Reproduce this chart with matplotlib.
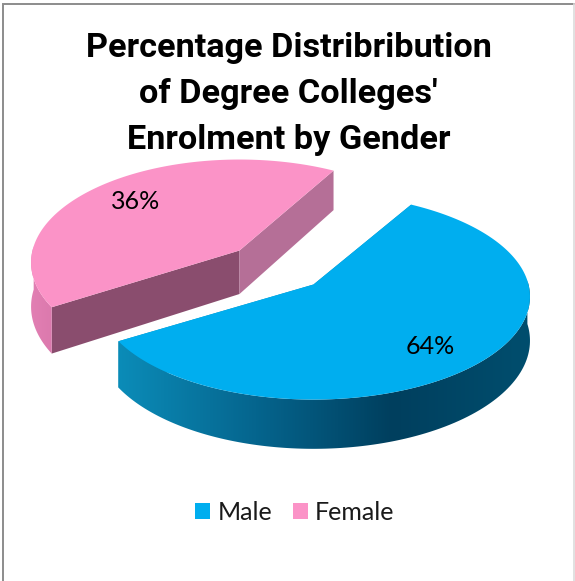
import numpy as np
import matplotlib
matplotlib.use("Agg")
import matplotlib.pyplot as plt
from matplotlib.colors import LinearSegmentedColormap
from matplotlib.patches import Patch, Polygon

title = "Percentage Distribribution\nof Degree Colleges'\nEnrolment by Gender"
labels = ["Male", "Female"]
shares = [64, 36]

top_colors = ["#00aeef", "#fb93c7"]
arc_ramps = [["#0b8cb8", "#05658e", "#003f5e", "#004e6e"], ["#e27fb3", "#cf6fa2"]]
# wall at the start and at the end of each slice
side_colors = [("#0b8cb8", "#0b8cb8"), ("#8a4d6e", "#b56f97")]
widths = [215.0, 207.0]
ramp_spans = [None, 60]
label_turn = [4, 0]
label_radius = [0.76, 0.74]

# pie layout in pixels, y pointing down
cx, cy = 276.5, 267.5
ry = 101.6
persp = 0.117
thick = 43.5
explode = 0.24
first_angle = 19.0
# the original drawing is not to scale, its slices look like 58/42
skew_amp, skew_at = 14.3, 134.2


def skew(a):
    return a + skew_amp * np.sin(np.radians(2 * (a - skew_at)))


def project(a, r, ox, oy, rx, drop=0.0):
    # a in degrees clockwise from the back of the pie
    t = np.radians(a)
    u, v = r * np.sin(t), -r * np.cos(t)
    s = 1 / (1 - persp * v)
    return ox + rx * u * s, oy + ry * v * s + drop * s


fig = plt.figure(figsize=(5.75, 5.81), dpi=100, facecolor="white")
ax = fig.add_axes([0, 0, 1, 1])
ax.axis("off")

# frame, the right side is much fainter
ax.plot([2.5, 2.5, 573.5], [581, 3.5, 3.5], color="#8c8c8c", lw=1.4, solid_joinstyle="miter")
ax.plot([573.5, 573.5], [3.5, 581], color="#dcdcdc", lw=1.2)

edges = first_angle + np.cumsum([0] + shares) * 3.6
for i, share in enumerate(shares):
    a0, a1 = edges[i], edges[i + 1]
    mid = (a0 + a1) / 2
    rx = widths[i]
    ox = cx + explode * 215.0 * np.sin(np.radians(mid))
    oy = cy - explode * ry * np.cos(np.radians(mid))
    angs = skew(np.linspace(a0, a1, 240))

    # radial walls
    ax0, ay0 = project(angs[0], 1, ox, oy, rx)
    ax1, ay1 = project(angs[-1], 1, ox, oy, rx)
    bx0, by0 = project(angs[0], 1, ox, oy, rx, thick)
    bx1, by1 = project(angs[-1], 1, ox, oy, rx, thick)
    low = oy + thick
    ax.add_patch(Polygon([(ox, oy), (ax0, ay0), (bx0, by0), (ox, low)], fc=side_colors[i][0], ec="none"))
    ax.add_patch(Polygon([(ox, oy), (ax1, ay1), (bx1, by1), (ox, low)], fc=side_colors[i][1], ec="none"))

    # outer wall, shaded from left to right
    xt, yt = project(angs, 1, ox, oy, rx)
    xb, yb = project(angs, 1, ox, oy, rx, thick)
    near = np.cos(np.radians(angs)) < 0.05
    outline = list(zip(xt[near], yt[near])) + list(zip(xb[near][::-1], yb[near][::-1]))
    clip = Polygon(outline, fc="none", ec="none")
    ax.add_patch(clip)
    ramp = LinearSegmentedColormap.from_list("wall", arc_ramps[i])
    span = ramp_spans[i] or xt.max() - xt.min()
    grad = np.linspace(0, 1, 256).reshape(1, -1)
    im = ax.imshow(grad, cmap=ramp, extent=(xt.min(), xt.min() + span, 500, 100), aspect="auto", zorder=1.5)
    im.set_clip_path(clip)

    # top face
    ax.add_patch(Polygon([(ox, oy)] + list(zip(xt, yt)), fc=top_colors[i], ec="none", zorder=2))

    lx, ly = project(skew(mid) + label_turn[i], label_radius[i], ox, oy, rx)
    ax.text(lx, ly, f"{share}%", fontsize=18, family=["Lato", "DejaVu Sans"], color="black",
            ha="center", va="center", zorder=3)

ax.set_xlim(0, 575)
ax.set_ylim(581, 0)

ax.text(288.5, 94, title, fontsize=24.7, fontweight="bold", family=["Roboto", "Liberation Sans"],
        ha="center", va="center", linespacing=1.55, color="black")

handles = [Patch(fc=c, ec="none") for c in top_colors]
ax.legend(handles, labels, loc="center", bbox_to_anchor=(295 / 575, 1 - 512 / 581), ncols=2, frameon=False,
          prop={"family": ["Lato", "DejaVu Sans"], "size": 18}, handlelength=0.6, handleheight=0.6,
          handletextpad=0.28, columnspacing=0.84, labelcolor="#1a1a1a")

fig.savefig("out.png", dpi=100)
